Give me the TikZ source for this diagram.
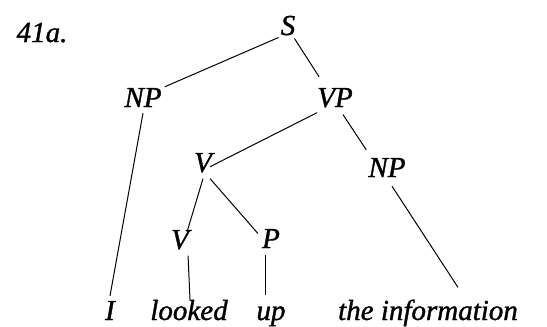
\documentclass[tikz,border=0pt]{standalone}
\usepackage{fontspec}
\setmainfont{Liberation Serif}
\newfontfamily\treefont{Liberation Serif}[ItalicFeatures={FakeBold=1.2}]
\begin{document}
\begin{tikzpicture}[x=1pt,y=-1pt,
  lab/.style={font=\treefont\fontsize{29}{34}\selectfont\itshape, inner sep=2pt, anchor=base},
  edge/.style={line width=1pt, black}]
\useasboundingbox (0,0) rectangle (547,327);
\node[lab] (ex) at (42,42) {41a.};
\node[lab] (S) at (288,35) {S};
\node[lab] (NP1) at (143,107) {NP};
\node[lab] (VP) at (335,107) {VP};
\node[lab] (V1) at (203,172) {V};
\node[lab] (NP2) at (387,177) {NP};
\node[lab] (V2) at (180,249) {V};
\node[lab] (P) at (271,248) {P};
\node[lab] (I) at (110,320) {I};
\node[lab] (looked) at (189,320) {looked};
\node[lab] (up) at (271,320) {up};
\node[lab] (info) at (428,320) {the information};
\draw[edge] ([shift={(0,0)}]S.south west) -- ([shift={(1,1)}]NP1.north east);
\draw[edge] ([shift={(-3,1)}]S.south east) -- ([shift={(4,-9)}]VP.north west);
\draw[edge] ([shift={(0,4)}]NP1.south) -- ([shift={(0,-3)}]I.north);
\draw[edge] ([shift={(2,3)}]VP.south west) -- ([shift={(-4,4)}]V1.east);
\draw[edge] ([shift={(8,5)}]VP.south) -- ([shift={(0,-6)}]NP2.north west);
\draw[edge] ([shift={(0,4)}]V1.south) -- ([shift={(-4,4)}]V2.north east);
\draw[edge] ([shift={(-4,4)}]V1.south east) -- ([shift={(-2,-5)}]P.west);
\draw[edge] ([shift={(-3,4)}]V2.south east) -- ([shift={(1,2)}]looked.north);
\draw[edge] ([shift={(-6,5)}]P.south) -- ([shift={(-6,-9)}]up.north);
\draw[edge] ([shift={(5,7)}]NP2.south) -- ([shift={(30,-10)}]info.north);
\end{tikzpicture}
\end{document}
